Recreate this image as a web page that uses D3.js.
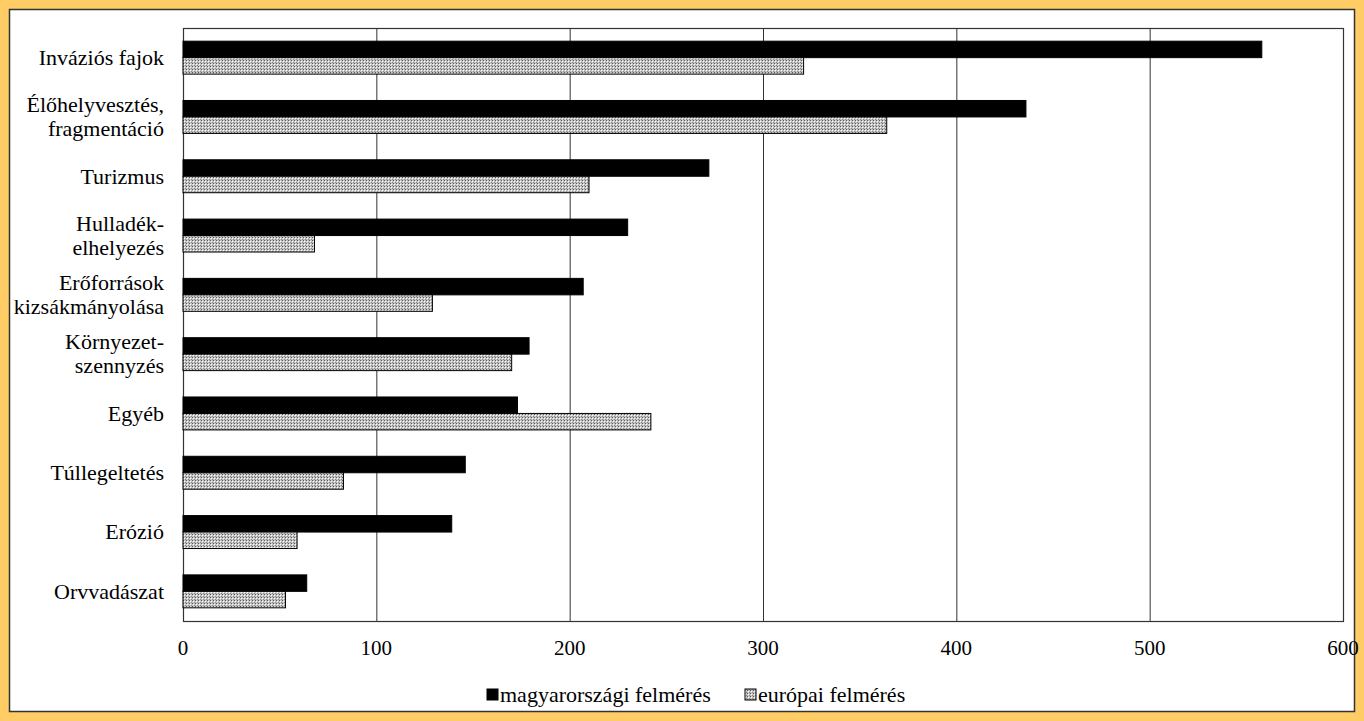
<!DOCTYPE html>
<html>
<head>
<meta charset="utf-8">
<script src="https://cdn.jsdelivr.net/npm/d3@7.9.0/dist/d3.min.js"></script>
<style>
  html, body { margin: 0; padding: 0; background: #ffcc66; }
  svg { display: block; font-family: "Liberation Serif", "Times New Roman", serif; }
</style>
</head>
<body>
<svg id="chart" width="1364" height="721"></svg>
<script>
// categories (top to bottom), label lines
const categories = [
  ["Inváziós fajok"],
  ["Élőhelyvesztés,", "fragmentáció"],
  ["Turizmus"],
  ["Hulladék-", "elhelyezés"],
  ["Erőforrások", "kizsákmányolása"],
  ["Környezet-", "szennyzés"],
  ["Egyéb"],
  ["Túllegeltetés"],
  ["Erózió"],
  ["Orvvadászat"]
];
const seriesNames = ["magyarországi felmérés", "európai felmérés"];
const hungarian = [558, 436, 272, 230, 207, 179, 173, 146, 139, 64];
const european = [321, 364, 210, 68, 129, 170, 242, 83, 59, 53];
const xTicks = [0, 100, 200, 300, 400, 500, 600];

const svg = d3.select('#chart');

// pattern for the european series
const defs = svg.append('defs');
const pat = defs.append('pattern')
  .attr('id', 'dots')
  .attr('width', 3).attr('height', 3)
  .attr('patternUnits', 'userSpaceOnUse');
pat.append('rect').attr('width', 3).attr('height', 3).attr('fill', '#c4c4c4');
pat.append('rect').attr('x', 0).attr('y', 0).attr('width', 1).attr('height', 1).attr('fill', '#5a5a5a');
pat.append('rect').attr('x', 1).attr('y', 1).attr('width', 1).attr('height', 1).attr('fill', '#ffffff');
pat.append('rect').attr('x', 2).attr('y', 2).attr('width', 1).attr('height', 1).attr('fill', '#8a8a8a');

// white chart box
svg.append('rect')
  .attr('x', 9.5).attr('y', 9.5)
  .attr('width', 1345).attr('height', 702)
  .attr('fill', '#fff')
  .attr('stroke', '#333').attr('stroke-width', 1.5);

const plotLeft = 183, plotRight = 1343, plotTop = 28, plotBottom = 621;

const x = d3.scaleLinear().domain([0, 600]).range([plotLeft, plotRight]);
const y0 = d3.scaleBand().domain(d3.range(categories.length)).range([plotTop, plotBottom]);
const y1 = d3.scaleBand().domain([0, 1]).range([0, y0.bandwidth()]).paddingOuter(0.8);

// gridlines
svg.append('g').selectAll('line')
  .data(xTicks.slice(1, -1))
  .join('line')
  .attr('x1', d => x(d) + 0.5).attr('x2', d => x(d) + 0.5)
  .attr('y1', plotTop).attr('y2', plotBottom)
  .attr('stroke', '#333').attr('stroke-width', 1);

// plot frame
svg.append('rect')
  .attr('x', plotLeft + 0.5).attr('y', plotTop + 0.5)
  .attr('width', plotRight - plotLeft).attr('height', plotBottom - plotTop)
  .attr('fill', 'none').attr('stroke', '#333').attr('stroke-width', 1.2);

const fills = ['#000', 'url(#dots)'];
const series = [hungarian, european];

series.forEach((vals, si) => {
  svg.append('g').selectAll('rect')
    .data(vals)
    .join('rect')
    .attr('x', x(0))
    .attr('y', (d, i) => y0(i) + y1(si))
    .attr('width', d => x(d) - x(0))
    .attr('height', y1.bandwidth())
    .attr('fill', fills[si])
    .attr('stroke', '#000').attr('stroke-width', 1);
});

// category labels
const lab = svg.append('g').attr('font-size', 22).attr('fill', '#000');
categories.forEach((lines, i) => {
  const cy = y0(i) + y0.bandwidth() / 2;
  const lh = 24;
  lines.forEach((t, j) => {
    lab.append('text')
      .attr('x', 164)
      .attr('y', cy + (j - (lines.length - 1) / 2) * lh)
      .attr('dy', '0.33em')
      .attr('text-anchor', 'end')
      .text(t);
  });
});

// x tick labels
svg.append('g').selectAll('text')
  .data(xTicks)
  .join('text')
  .attr('x', d => x(d))
  .attr('y', 648)
  .attr('dy', '0.33em')
  .attr('text-anchor', 'middle')
  .attr('font-size', 21)
  .text(d => d);

// legend
const legend = svg.append('g').attr('font-size', 22);
const legendX = [487, 745];
seriesNames.forEach((name, i) => {
  legend.append('rect')
    .attr('x', legendX[i]).attr('y', 689)
    .attr('width', 11).attr('height', 11)
    .attr('fill', fills[i])
    .attr('stroke', '#000').attr('stroke-width', 1);
  legend.append('text')
    .attr('x', legendX[i] + 13).attr('y', 695)
    .attr('dy', '0.33em')
    .text(name);
});
</script>
</body>
</html>
